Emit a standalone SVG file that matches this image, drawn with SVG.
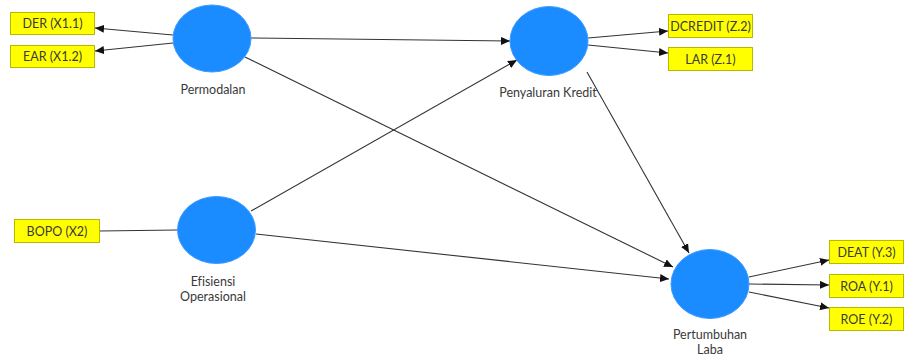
<svg xmlns="http://www.w3.org/2000/svg" width="904" height="356" viewBox="0 0 904 356">
<style>
.lv{fill:#1a8cff;stroke:#3b9bff;stroke-width:1}
.mv{fill:#ffff00;stroke:#b8b800;stroke-width:1}
.t{font-family:Lato,"Open Sans",sans-serif;font-size:12.5px;fill:#3a3a3a;text-anchor:middle;font-variant-ligatures:none}
.c{stroke:#333;stroke-width:1.1;fill:none}
.a{marker-end:url(#ah)}
</style>
<defs>
<marker id="ah" markerUnits="userSpaceOnUse" markerWidth="10" markerHeight="8" refX="9" refY="4" orient="auto">
<path d="M0,0 L9,4 L0,8 Z" fill="#111"/>
</marker>
</defs>
<rect width="904" height="356" fill="#fff"/>
<g id="connectors">
<line class="c a" x1="173" y1="35" x2="95" y2="28"/>
<line class="c a" x1="173" y1="43" x2="95" y2="51"/>
<line class="c a" x1="251" y1="38" x2="510" y2="41"/>
<line class="c a" x1="245" y1="57" x2="673" y2="267"/>
<line class="c a" x1="251" y1="211" x2="517" y2="60"/>
<line class="c" x1="99" y1="231" x2="177" y2="230"/>
<line class="c a" x1="256" y1="234" x2="669" y2="279"/>
<line class="c a" x1="587" y1="72" x2="689" y2="253"/>
<line class="c a" x1="588" y1="38" x2="668" y2="31"/>
<line class="c a" x1="588" y1="45" x2="668" y2="53"/>
<line class="c a" x1="749" y1="277" x2="829" y2="260"/>
<line class="c a" x1="749" y1="284" x2="829" y2="285"/>
<line class="c a" x1="749" y1="292" x2="829" y2="308"/>
</g>
<g id="permodalan">
<ellipse class="lv" cx="212" cy="38.5" rx="39" ry="33.5"/>
<text class="t" x="213" y="94">Permodalan</text>
</g>
<g id="penyaluran">
<ellipse class="lv" cx="549" cy="41" rx="39" ry="34.5"/>
<text class="t" x="548" y="97">Penyaluran Kredit</text>
</g>
<g id="efisiensi">
<ellipse class="lv" cx="216.5" cy="230" rx="39" ry="33.5"/>
<text class="t" x="213" y="286">Efisiensi</text>
<text class="t" x="213" y="301">Operasional</text>
</g>
<g id="pertumbuhan">
<ellipse class="lv" cx="710" cy="284" rx="39" ry="34.5"/>
<text class="t" x="710" y="339">Pertumbuhan</text>
<text class="t" x="710" y="354">Laba</text>
</g>
<g id="der"><rect class="mv" x="10.5" y="12.5" width="84" height="22"/><text class="t" x="52.5" y="27.5">DER (X1.1)</text></g>
<g id="ear"><rect class="mv" x="10.5" y="45.5" width="84" height="22"/><text class="t" x="52.5" y="60.5">EAR (X1.2)</text></g>
<g id="bopo"><rect class="mv" x="14.5" y="219.5" width="85" height="23"/><text class="t" x="57" y="235.5">BOPO (X2)</text></g>
<g id="dcredit"><rect class="mv" x="668.5" y="14.5" width="84" height="23"/><text class="t" x="710.5" y="30.5">DCREDIT (Z.2)</text></g>
<g id="lar"><rect class="mv" x="668.5" y="47.5" width="84" height="23"/><text class="t" x="710.5" y="63.5">LAR (Z.1)</text></g>
<g id="deat"><rect class="mv" x="829.5" y="240.5" width="74" height="23"/><text class="t" x="866.5" y="256.5">DEAT (Y.3)</text></g>
<g id="roa"><rect class="mv" x="829.5" y="274.5" width="74" height="23"/><text class="t" x="866.5" y="290.5">ROA (Y.1)</text></g>
<g id="roe"><rect class="mv" x="829.5" y="307.5" width="74" height="23"/><text class="t" x="866.5" y="323.5">ROE (Y.2)</text></g>
</svg>
